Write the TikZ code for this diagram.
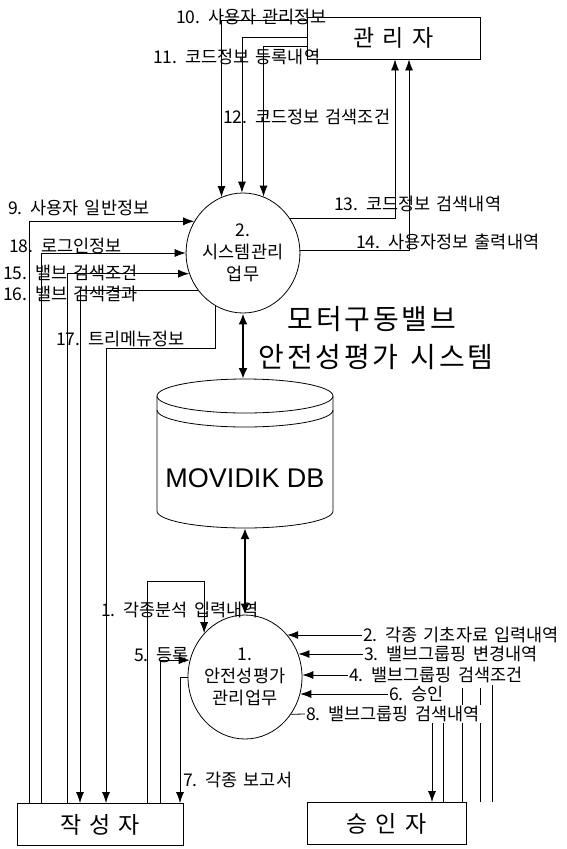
\documentclass[tikz,border=0pt]{standalone}
\usepackage{fontspec}
\newfontfamily\krfont[WordSpace=1.6]{Noto Sans CJK KR}
\newfontfamily\ttlfont[LetterSpace=10,WordSpace=1.3]{Noto Sans CJK KR}
\newfontfamily\dbfont{Liberation Sans}
\usetikzlibrary{arrows.meta,shapes.geometric}
\begin{document}
\begin{tikzpicture}[x=1pt,y=-1pt,
		line/.style={line width=0.8pt},
		flow/.style={line width=0.8pt,-{Latex[length=11pt,width=8pt]}},
		dbflow/.style={line width=2.2pt,{Latex[length=11pt,width=9pt]}-{Latex[length=11pt,width=9pt]}},
		lbl/.style={font=\krfont\fontsize{17.5}{17.5}\selectfont,inner sep=1pt,anchor=west},
		ent/.style={draw,line width=0.8pt,minimum width=#1,minimum height=42pt,inner sep=0pt,
			font=\krfont\fontsize{23}{23}\selectfont},
		proc/.style={draw,ellipse,line width=0.8pt,inner sep=0pt,align=center,
			font=\krfont\fontsize{17.5}{22}\selectfont}]
	\useasboundingbox (0,0) rectangle (567,849);
	% external entities
	\node[ent=173pt] (mgr) at (393.5,38) {관 리 자};
	\node[ent=166pt] (wrt) at (100,824.5) {작 성 자};
	\node[ent=159pt] (apr) at (386.5,823.5) {승 인 자};
	% processes
	\node[proc,minimum width=112pt,minimum height=120pt] (c2) at (243,253) {2.\\시스템관리\\업무};
	\node[proc,minimum width=114pt,minimum height=124pt] (c1) at (245,677) {1.\\안전성평가\\관리업무};
	% title
	\node[font=\ttlfont\fontsize{28}{28}\selectfont] (ttla) at (372,319) {모터구동밸브};
	\node[font=\ttlfont\fontsize{28}{28}\selectfont] (ttlb) at (376,357) {안전성평가 시스템};
	% data store
	\draw[line] (157,396) -- (157,511) arc[start angle=180,end angle=0,x radius=88,y radius=17] -- (333,396);
	\draw[line] (245,396) ellipse[x radius=88,y radius=17];
	\draw[line] (157,410) arc[start angle=180,end angle=0,x radius=88,y radius=17];
	\node[font=\dbfont\fontsize{27}{27}\selectfont] (db) at (245,478) {MOVIDIK DB};
	\coordinate (dbtop) at (245,379);
	\coordinate (dbbot) at (245,528);
	\draw[dbflow] (c2.south) -- (c2.south |- dbtop);
	\draw[dbflow] (dbbot) -- (c1.north);
	% labels
	\node[lbl] (l10) at (175,17) {10. 사용자 관리정보};
	\node[lbl] (l11) at (152,57) {11. 코드정보 등록내역};
	\node[lbl] (l12) at (222,117) {12. 코드정보 검색조건};
	\node[lbl] (l13) at (333,204) {13. 코드정보 검색내역};
	\node[lbl] (l14) at (355,242) {14. 사용자정보 출력내역};
	\node[lbl] (l9) at (7,208) {9. 사용자 일반정보};
	\node[lbl] (l18) at (8,246) {18. 로그인정보};
	\node[lbl] (l15) at (2,273) {15. 밸브 검색조건};
	\node[lbl] (l16) at (2,294) {16. 밸브 검색결과};
	\node[lbl] (l17) at (55,339) {17. 트리메뉴정보};
	\node[lbl] (l1) at (100,610) {1. 각종분석 입력내역};
	\node[lbl] (l5) at (133,655) {5. 등록};
	\node[lbl] (l7) at (182,780) {7. 각종 보고서};
	\node[lbl] (l2) at (362,635) {2. 각종 기초자료 입력내역};
	\node[lbl] (l3) at (363,654) {3. 밸브그룹핑 변경내역};
	\node[lbl] (l4) at (348,675) {4. 밸브그룹핑 검색조건};
	\node[lbl] (l6) at (388,694) {6. 승인};
	% flows with the manager
	\draw[flow] (mgr.west |- 0,20) -| (c2.111);
	\draw[flow] (mgr.west |- 0,37) -| (c2.91);
	\draw[flow] (mgr.west |- 0,46) -| (c2.70);
	\draw[flow] (c2.36) -| (395,0 |- mgr.south);
	\draw[flow] (c2.3) -| (409,0 |- mgr.south);
	% flows with the writer (system management)
	\draw[flow] (29,0 |- wrt.north) |- (c2.147);
	\draw[flow] (41,0 |- wrt.north) |- (c2.180);
	\draw[flow] (67,0 |- wrt.north) |- (c2.201);
	\draw[flow] (c2.220) -| (80,0 |- wrt.north);
	\draw[flow] (c2.243) |- (106,348) -- (106,0 |- wrt.north);
	% flows with the writer (safety evaluation)
	\draw[flow] (147,0 |- wrt.north) |- (c1.133 |- 0,581) -- (c1.133);
	\draw[flow] (160,0 |- wrt.north) |- (c1.163);
	\draw[flow] (c1.west) -| (180,0 |- wrt.north);
	% flows with the approver
	\draw[flow] (l2.west) -- (c1.45 |- l2.west);
	\draw[flow] (l3.west) -- (c1.23 |- l3.west);
	\draw[flow] (l4.west) -- (c1.2 |- l4.west);
	\draw[flow] (l6.west) -- (c1.343 |- l6.west);
	\draw[line] (462,688) -- (462,0 |- apr.north);
	\draw[line] (480,688) -- (480,0 |- apr.north);
	\draw[line] (492,685) -- (492,0 |- apr.north);
	\node[lbl,fill=white] (l8) at (305,714) {8. 밸브그룹핑 검색내역};
	\draw[line] (c1.321) -- (l8.west);
	\draw[flow] (432,0 |- l8.south) -- (432,0 |- apr.north);
	\draw[line] (443,0 |- l8.south) -- (443,0 |- apr.north);
\end{tikzpicture}
\end{document}
